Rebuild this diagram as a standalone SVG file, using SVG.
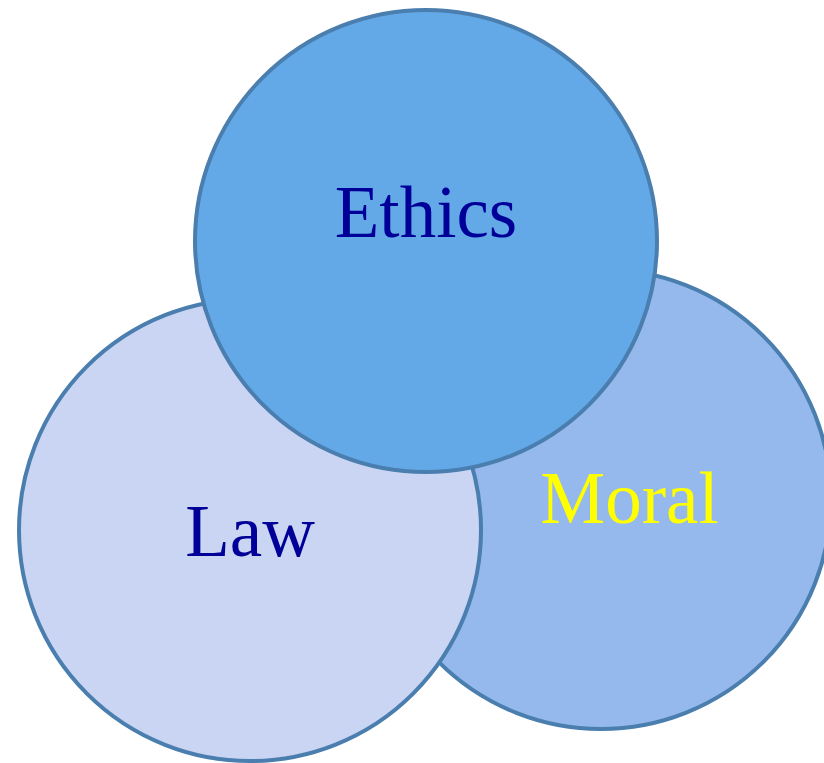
<svg xmlns="http://www.w3.org/2000/svg" width="824" height="763" viewBox="0 0 824 763">
<style>
.c{stroke:#4A7EAF;stroke-width:4}
.t{font-family:"Liberation Serif","Times New Roman",serif;font-size:73px;text-anchor:middle}
</style>
<rect width="824" height="763" fill="#FFFFFF"/>
<g id="moral">
<circle class="c" cx="601" cy="499" r="230" fill="#95B9EC"/>
<text class="t" x="629.5" y="523" fill="#FFFF00">Moral</text>
</g>
<g id="law">
<circle class="c" cx="250" cy="530" r="231" fill="#CAD4F3"/>
<text class="t" x="250" y="556" fill="#000099">Law</text>
</g>
<g id="ethics">
<circle class="c" cx="426" cy="241" r="231" fill="#63A9E8"/>
<text class="t" x="426" y="237" fill="#000099">Ethics</text>
</g>
<g id="connectors"/>
</svg>
